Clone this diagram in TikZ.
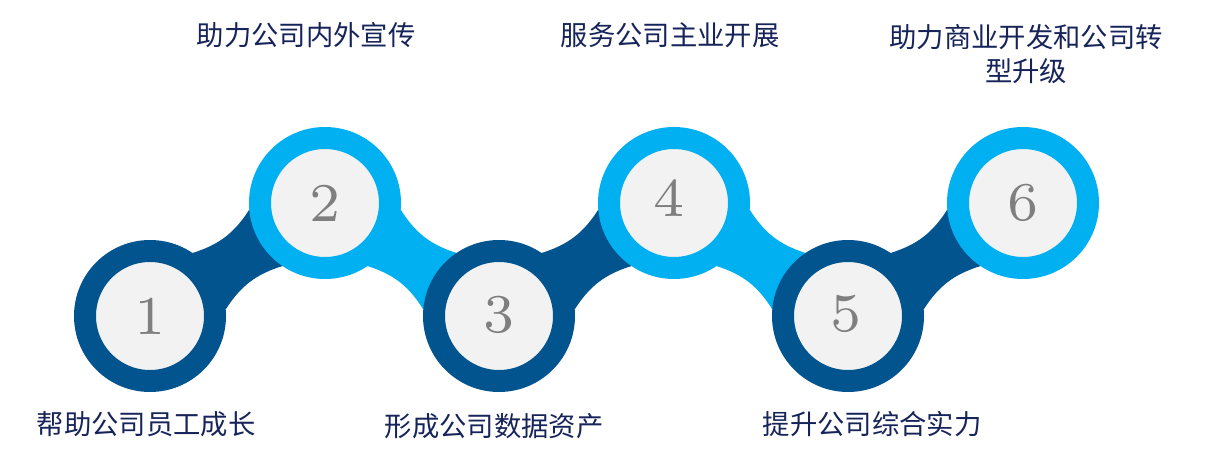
\documentclass[tikz,border=0pt]{standalone}
\usepackage{fontspec}
\newfontfamily\cjk{Noto Sans CJK SC}
\newfontfamily\numfont{lmroman7-regular.otf}
\definecolor{dkblue}{HTML}{02548F}
\definecolor{ltblue}{HTML}{00B0F0}
\definecolor{innergray}{HTML}{F2F2F2}
\definecolor{numgray}{HTML}{7F7F7F}
\definecolor{txtnavy}{HTML}{17245A}
\begin{document}
\begin{tikzpicture}[x=0.75pt,y=0.75pt,
  ring/.style={circle,fill=innergray,line width=16.5pt,minimum size=97.5pt,
    inner sep=0pt,outer sep=8.25pt,text=numgray,font=\numfont\fontsize{41}{41}\selectfont},
  ringdk/.style={ring,draw=dkblue},
  ringlt/.style={ring,draw=ltblue},
  lbl/.style={text=txtnavy,font=\cjk\fontsize{20.5}{25.5}\selectfont,align=center,inner sep=0pt},
  link/.style={bend right=20}]
\useasboundingbox (0,0) rectangle (1206,472);
\fill[white] (0,0) rectangle (1206,472);
\path (150,156) coordinate (p1) (325,269) coordinate (p2) (499,156) coordinate (p3)
      (674,269) coordinate (p4) (848,156) coordinate (p5) (1023,269) coordinate (p6);
\begin{scope}[every node/.style={circle,minimum size=152*0.75pt,inner sep=0pt,outer sep=0pt}]
\node (a1) at (p1) {}; \node (a2) at (p2) {}; \node (a3) at (p3) {};
\node (a4) at (p4) {}; \node (a5) at (p5) {}; \node (a6) at (p6) {};
\end{scope}
% connectors
\fill[dkblue] (a1.56) to[link] (a2.185) -- (a2.236) to[link] (a1.5) -- cycle;
\fill[ltblue] (a2.-5) to[link] (a3.124) -- (a3.175) to[link] (a2.-56) -- cycle;
\fill[dkblue] (a3.56) to[link] (a4.185) -- (a4.236) to[link] (a3.5) -- cycle;
\fill[ltblue] (a4.-5) to[link] (a5.124) -- (a5.175) to[link] (a4.-56) -- cycle;
\fill[dkblue] (a5.56) to[link] (a6.185) -- (a6.236) to[link] (a5.5) -- cycle;
% circles
\node[ringdk] (c1) at (p1) {1};
\node[ringlt] (c2) at (p2) {2};
\node[ringdk] (c3) at (p3) {\raisebox{2pt}{3}};
\node[ringlt] (c4) at (p4) {\hspace{-7pt}\raisebox{8pt}{4}};
\node[ringdk] (c5) at (p5) {\hspace{-3pt}\raisebox{3.5pt}{5}};
\node[ringlt] (c6) at (p6) {6};
% labels
\node[lbl] (t1) at (146,48) {帮助公司员工成长};
\node[lbl] (t3) at (494,46) {形成公司数据资产};
\node[lbl] (t5) at (872,48) {提升公司综合实力};
\node[lbl] (t2) at (306,437) {助力公司内外宣传};
\node[lbl] (t4) at (670,437) {服务公司主业开展};
\node[lbl] (t6) at (1026,418) {助力商业开发和公司转\\型升级};
\end{tikzpicture}
\end{document}
